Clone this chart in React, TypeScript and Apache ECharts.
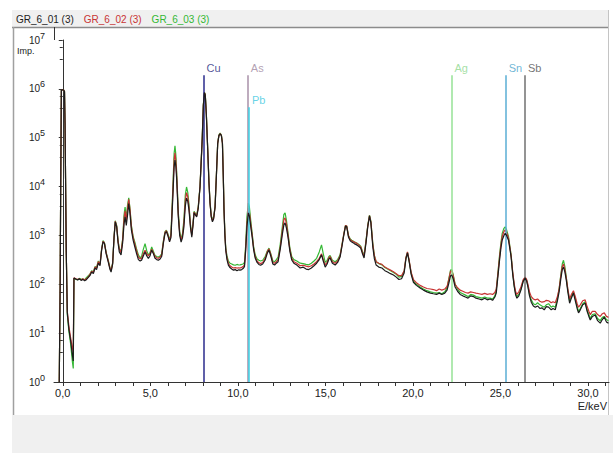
import React, { useEffect, useRef } from "react";
import * as echarts from "echarts";

const seriesNames = ["GR_6_01 (3)", "GR_6_02 (3)", "GR_6_03 (3)"];

const energy = [
  -0.2, -0.15, -0.12, -0.08, 0.05, 0.1, 0.13, 0.16, 0.2, 0.26,
  0.35, 0.45, 0.55, 0.6, 0.64, 0.75, 0.85, 0.95, 1.05, 1.15,
  1.25, 1.35, 1.46, 1.55, 1.65, 1.75, 1.84, 1.93, 2.03, 2.13,
  2.22, 2.3, 2.38, 2.48, 2.6, 2.7, 2.76, 2.85, 2.93, 3.0,
  3.08, 3.16, 3.23, 3.33, 3.42, 3.5, 3.56, 3.63, 3.7, 3.77,
  3.84, 3.92, 4.02, 4.13, 4.22, 4.32, 4.42, 4.5, 4.6, 4.7,
  4.8, 4.89, 4.98, 5.08, 5.18, 5.27, 5.37, 5.46, 5.56, 5.65,
  5.75, 5.84, 5.92, 6.0, 6.1, 6.18, 6.28, 6.36, 6.41, 6.46,
  6.51, 6.6, 6.68, 6.76, 6.84, 6.92, 7.0, 7.07, 7.14, 7.21,
  7.3, 7.37, 7.44, 7.5, 7.58, 7.65, 7.74, 7.84, 7.92, 7.97,
  8.03, 8.09, 8.14, 8.2, 8.28, 8.35, 8.41, 8.48, 8.55, 8.62,
  8.7, 8.78, 8.85, 8.92, 8.99, 9.06, 9.12, 9.17, 9.21, 9.26,
  9.31, 9.38, 9.46, 9.55, 9.65, 9.75, 9.85, 9.95, 10.05, 10.13,
  10.22, 10.3, 10.38, 10.45, 10.52, 10.6, 10.66, 10.74, 10.82, 10.9,
  10.99, 11.1, 11.2, 11.3, 11.42, 11.56, 11.68, 11.78, 11.88, 12.0,
  12.1, 12.2, 12.3, 12.42, 12.55, 12.63, 12.7, 12.78, 12.87, 12.97,
  13.08, 13.2, 13.37, 13.56, 13.72, 13.9, 14.05, 14.2, 14.35, 14.5,
  14.65, 14.78, 14.88, 14.99, 15.1, 15.2, 15.27, 15.4, 15.56, 15.7,
  15.84, 15.95, 16.05, 16.15, 16.22, 16.32, 16.42, 16.51, 16.65, 16.79,
  16.9, 17.02, 17.12, 17.21, 17.32, 17.42, 17.52, 17.6, 17.71, 17.8,
  17.9, 18.05, 18.23, 18.4, 18.55, 18.72, 18.89, 19.05, 19.2, 19.35,
  19.5, 19.6, 19.69, 19.78, 19.9, 20.03, 20.2, 20.41, 20.6, 20.8,
  21.0, 21.17, 21.35, 21.5, 21.65, 21.82, 21.95, 22.05, 22.15, 22.22,
  22.3, 22.41, 22.55, 22.7, 22.85, 23.0, 23.15, 23.3, 23.46, 23.6,
  23.78, 23.94, 24.1, 24.25, 24.41, 24.55, 24.68, 24.76, 24.86, 24.95,
  25.03, 25.1, 25.2, 25.27, 25.35, 25.46, 25.55, 25.61, 25.7, 25.79,
  25.87, 25.94, 26.05, 26.17, 26.3, 26.41, 26.5, 26.57, 26.66, 26.76,
  26.88, 26.99, 27.12, 27.25, 27.37, 27.5, 27.62, 27.75, 27.9, 28.0,
  28.13, 28.25, 28.35, 28.45, 28.53, 28.6, 28.68, 28.76, 28.85, 28.95,
  29.05, 29.17, 29.28, 29.38, 29.46, 29.56, 29.7, 29.84, 29.95, 30.05,
  30.13, 30.25, 30.41, 30.55, 30.7, 30.82, 30.93, 31.05, 31.17,
];

const counts01 = [
  1, 90, 6600, 950000, 950000, 880000, 200000, 15000, 460, 26,
  12, 7, 3.5, 2.7, 135, 128, 122, 130, 120, 126,
  118, 124, 138, 150, 178, 165, 215, 200, 270, 240,
  500, 740, 690, 420, 285, 200, 178, 260, 900, 1900,
  1500, 700, 460, 400, 700, 1700, 2400, 1600, 2600, 4500,
  2800, 1300, 800, 560, 420, 320, 300, 310, 380, 460,
  380, 340, 380, 500, 420, 340, 320, 310, 330, 370,
  700, 1100, 1200, 1000, 740, 900, 5300, 25000, 35000, 26000,
  13500, 2400, 1000, 730, 900, 1500, 4000, 5800, 5000, 3300,
  1400, 920, 1600, 2900, 2600, 2400, 3600, 9800, 40000, 100000,
  450000, 830000, 750000, 300000, 56000, 12000, 4600, 2400, 1900, 2200,
  3800, 18000, 76000, 110000, 120000, 110000, 76000, 15000, 3300, 1000,
  500, 320, 247, 220, 205, 195, 200, 190, 198, 195,
  200, 210, 230, 500, 1500, 2900, 2500, 1500, 920, 520,
  345, 280, 255, 245, 260, 314, 430, 500, 380, 260,
  247, 270, 290, 520, 1100, 1650, 1800, 1400, 900, 480,
  314, 270, 247, 215, 225, 205, 200, 215, 240, 270,
  320, 400, 300, 225, 260, 330, 345, 270, 247, 280,
  360, 600, 1000, 1550, 1500, 920, 780, 730, 680, 640,
  600, 550, 420, 345, 700, 1500, 2500, 1800, 580, 330,
  247, 225, 215, 190, 178, 165, 155, 140, 125, 130,
  170, 330, 440, 300, 160, 110, 95, 84, 76, 70,
  66, 64, 62, 66, 62, 66, 76, 105, 150, 155,
  130, 88, 72, 62, 58, 55, 52, 58, 56, 52,
  50, 48, 52, 48, 50, 47, 55, 66, 150, 314,
  560, 805, 1000, 1100, 1000, 800, 500, 360, 160, 88,
  60, 52, 58, 76, 115, 134, 115, 88, 58, 43,
  36, 34, 36, 32, 33, 30, 35, 34, 30, 32,
  30, 45, 70, 130, 200, 225, 180, 122, 70, 41,
  52, 66, 45, 32, 26, 30, 38, 41, 28, 22,
  18.6, 22, 23.5, 18, 16, 19, 21.4, 17, 16,
];

const counts02 = [
  1, 90, 6600, 950000, 950000, 880000, 200000, 15000, 460, 28,
  14, 8, 5, 4.2, 135, 130, 126, 128, 124, 130,
  122, 130, 142, 160, 185, 175, 225, 215, 290, 255,
  520, 760, 700, 440, 300, 210, 190, 270, 920, 1950,
  1550, 760, 520, 450, 800, 2200, 3200, 2000, 3600, 5500,
  3400, 1500, 900, 640, 480, 360, 330, 340, 420, 500,
  420, 380, 420, 520, 440, 370, 350, 340, 360, 400,
  750, 1150, 1250, 1050, 780, 1000, 6500, 35000, 49000, 34000,
  16000, 2700, 1100, 800, 1000, 1800, 5200, 7500, 6200, 3800,
  1500, 1000, 1700, 3000, 2700, 2500, 3800, 10000, 42000, 105000,
  460000, 840000, 760000, 310000, 58000, 12500, 4800, 2500, 2000, 2300,
  3900, 18500, 77000, 112000, 122000, 112000, 78000, 16000, 3500, 1080,
  520, 350, 270, 240, 225, 215, 220, 215, 218, 215,
  222, 230, 250, 560, 1800, 3600, 3000, 1700, 1000, 560,
  370, 300, 275, 265, 280, 340, 460, 530, 410, 280,
  270, 290, 320, 560, 1300, 2100, 2300, 1700, 1000, 520,
  340, 290, 270, 240, 245, 235, 228, 240, 260, 290,
  340, 420, 320, 250, 280, 350, 370, 290, 270, 300,
  380, 640, 1050, 1600, 1550, 980, 820, 780, 730, 690,
  640, 580, 450, 370, 750, 1550, 2550, 1900, 650, 380,
  290, 270, 255, 225, 210, 195, 180, 165, 150, 150,
  190, 350, 460, 320, 175, 125, 108, 95, 88, 82,
  80, 78, 74, 80, 76, 80, 90, 125, 185, 190,
  150, 100, 85, 76, 72, 68, 66, 70, 68, 66,
  64, 62, 65, 62, 64, 62, 68, 80, 170, 360,
  650, 950, 1200, 1300, 1150, 880, 540, 380, 180, 100,
  70, 62, 70, 88, 125, 140, 125, 100, 70, 56,
  50, 48, 50, 45, 43, 44, 47, 46, 42, 44,
  42, 56, 80, 150, 230, 260, 200, 135, 80, 50,
  62, 74, 55, 40, 34, 38, 46, 48, 35, 28,
  24, 28, 28, 24, 22, 25, 26, 22, 21,
];

const counts03 = [
  1, 90, 6600, 950000, 950000, 880000, 200000, 15000, 460, 24,
  11, 6, 2.6, 1.9, 132, 126, 124, 132, 126, 128,
  124, 136, 150, 162, 190, 180, 230, 220, 300, 260,
  530, 780, 710, 450, 310, 215, 195, 275, 940, 2000,
  1600, 780, 540, 470, 850, 2600, 3800, 2200, 4200, 5900,
  3600, 1600, 950, 700, 520, 400, 350, 370, 520, 680,
  480, 400, 440, 580, 470, 390, 370, 360, 380, 420,
  780, 1200, 1280, 1100, 800, 1100, 8000, 48000, 68000, 44000,
  19000, 3000, 1200, 850, 1100, 2100, 6800, 9800, 7600, 4300,
  1600, 1050, 1800, 3100, 2800, 2600, 3900, 10200, 43000, 110000,
  470000, 850000, 770000, 320000, 60000, 13000, 5000, 2600, 2100, 2400,
  4000, 19000, 78000, 114000, 124000, 113000, 80000, 17000, 3700, 1150,
  560, 380, 300, 270, 260, 250, 245, 255, 248, 250,
  255, 260, 280, 650, 2400, 4600, 3800, 2000, 1100, 600,
  400, 330, 310, 300, 310, 370, 480, 550, 430, 300,
  290, 320, 360, 650, 1600, 2700, 2900, 2000, 1100, 560,
  370, 320, 300, 270, 265, 255, 250, 270, 300, 340,
  460, 640, 420, 280, 310, 370, 390, 310, 290, 320,
  400, 660, 1050, 1600, 1550, 1000, 850, 800, 740, 700,
  660, 600, 470, 390, 780, 1600, 2600, 1950, 680, 390,
  290, 265, 250, 220, 205, 190, 175, 160, 140, 145,
  185, 345, 450, 310, 170, 118, 100, 88, 80, 74,
  70, 68, 66, 68, 64, 70, 85, 130, 195, 200,
  160, 100, 80, 68, 64, 60, 56, 62, 60, 56,
  54, 52, 55, 52, 52, 50, 58, 75, 180, 400,
  720, 1100, 1400, 1500, 1300, 950, 560, 400, 170, 92,
  64, 56, 62, 80, 118, 138, 120, 92, 62, 48,
  40, 38, 42, 38, 36, 34, 38, 40, 34, 36,
  34, 50, 80, 160, 260, 310, 230, 140, 75, 45,
  56, 70, 50, 35, 28, 32, 40, 44, 30, 24,
  20, 24, 25, 20, 18, 21, 22, 19, 18,
];

const elementNames = ["Cu", "As", "Pb", "Ag", "Sn", "Sb"];
const elementEnergy = [8.04, 10.57, 10.64, 22.2, 25.3, 26.4];
const elementTop = [1.9e6, 1.9e6, 4.2e5, 1.9e6, 1.9e6, 1.9e6];

const xLabelValues = [0, 5, 10, 15, 20, 25, 30];
const xTickValues = [
  0, 1, 2, 3, 4, 5, 6, 7, 8, 9, 10, 11, 12, 13, 14, 15,
  16, 17, 18, 19, 20, 21, 22, 23, 24, 25, 26, 27, 28, 29, 30, 31,
];

const seriesColors = ["#1c1c1c", "#c83434", "#34b834"];
const elementColors = ["#2b2b8c", "#a890a8", "#3ad0e4", "#96e296", "#5aaed4", "#707070"];
const elementLabelColors = ["#28287e", "#a088a0", "#40c8e0", "#8ed88e", "#4aa4cc", "#505050"];

const FONT = "'Liberation Sans', Arial, sans-serif";
const AXIS_COLOR = "#333333";

export default function App() {
  const ref = useRef<HTMLDivElement | null>(null);

  useEffect(() => {
    if (!ref.current) return;
    const chart = echarts.init(ref.current, undefined, { renderer: "svg" });
    const countSets = [counts01, counts02, counts03];

    const spectra = seriesNames.map((name, i) => ({
      name,
      type: "line",
      data: energy.map((e, k) => [e, countSets[i][k]]),
      showSymbol: false,
      symbol: "none",
      silent: true,
      lineStyle: { color: seriesColors[i], width: 1.2 },
      itemStyle: { color: seriesColors[i] },
      z: 5 - i,
    }));

    const markers = {
      name: "elements",
      type: "scatter",
      silent: true,
      symbolSize: 0,
      z: 1,
      data: elementNames.map((n, i) => ({
        value: [elementEnergy[i], elementTop[i]],
        label: { color: elementLabelColors[i] },
      })),
      label: {
        show: true,
        formatter: (p: any) => elementNames[p.dataIndex],
        position: [3, -13],
        align: "left",
        verticalAlign: "top",
        fontSize: 11,
        fontFamily: FONT,
      },
      markLine: {
        silent: true,
        symbol: ["none", "none"],
        label: { show: false },
        emphasis: { disabled: true },
        data: elementNames.map((n, i) => [
          {
            coord: [elementEnergy[i], elementTop[i]],
            lineStyle: { color: elementColors[i], width: 1.5, type: "solid" },
          },
          { coord: [elementEnergy[i], 1] },
        ]),
      },
    };

    const option: any = {
      animation: false,
      backgroundColor: "#ffffff",
      textStyle: { fontFamily: FONT },
      legend: {
        data: seriesNames.map((n, i) => ({ name: n, textStyle: { color: seriesColors[i] } })),
        left: 11,
        top: 12,
        padding: 0,
        icon: "rect",
        itemWidth: 0,
        itemHeight: 14,
        itemGap: 5,
        selectedMode: false,
        itemStyle: { opacity: 0 },
        textStyle: { fontSize: 10, fontFamily: FONT },
      },
      grid: { left: 54, right: 4, top: 40, bottom: 71 },
      xAxis: {
        type: "value",
        min: -0.5,
        max: 31.2,
        axisLine: { show: true, lineStyle: { color: AXIS_COLOR, width: 1 } },
        axisTick: {
          show: true,
          length: 4,
          customValues: xTickValues,
          lineStyle: { color: AXIS_COLOR },
        },
        axisLabel: {
          customValues: xLabelValues,
          formatter: (v: number) => v.toFixed(1).replace(".", ","),
          fontSize: 11,
          color: "#222222",
          margin: 5,
          fontFamily: FONT,
        },
        splitLine: { show: false },
      },
      yAxis: {
        type: "log",
        logBase: 10,
        min: 1,
        max: 1e7,
        splitNumber: 7,
        axisLine: { show: true, lineStyle: { color: AXIS_COLOR, width: 1 } },
        axisTick: { show: true, length: 4, lineStyle: { color: AXIS_COLOR } },
        minorTick: { show: true, splitNumber: 3, length: 3, lineStyle: { color: AXIS_COLOR } },
        splitLine: { show: false },
        minorSplitLine: { show: false },
        axisLabel: {
          margin: 9,
          formatter: (v: number) => `{b|10}{e|${Math.round(Math.log10(v))}}`,
          rich: {
            b: { fontSize: 10, color: "#222222", fontFamily: FONT },
            e: { fontSize: 9, color: "#222222", fontFamily: FONT, padding: [0, 0, 9, 0] },
          },
        },
      },
      series: [markers, ...spectra],
      graphic: {
        elements: [
          { type: "rect", z: -10, silent: true, shape: { x: 12, y: 10, width: 596, height: 17 }, style: { fill: "#f0f0f0" } },
          { type: "rect", z: -10, silent: true, shape: { x: 12, y: 415, width: 601, height: 38 }, style: { fill: "#f0f0f0" } },
          { type: "line", silent: true, shape: { x1: 12, y1: 27.5, x2: 608, y2: 27.5 }, style: { stroke: "#8c8c8c", lineWidth: 1.5 } },
          { type: "line", silent: true, shape: { x1: 13.5, y1: 27, x2: 13.5, y2: 415 }, style: { stroke: "#a0a0a0", lineWidth: 1.5 } },
          { type: "line", silent: true, shape: { x1: 608.5, y1: 10, x2: 608.5, y2: 415 }, style: { stroke: "#c4c4c4", lineWidth: 1 } },
          { type: "line", silent: true, shape: { x1: 54.5, y1: 27, x2: 54.5, y2: 40 }, style: { stroke: AXIS_COLOR, lineWidth: 1 } },
          { type: "text", silent: true, x: 17, y: 51, style: { text: "Imp.", fontSize: 9, fontFamily: FONT, fill: "#222222", verticalAlign: "middle" } },
          { type: "text", silent: true, x: 607, y: 406, style: { text: "E/keV", fontSize: 11, fontFamily: FONT, fill: "#222222", align: "right", verticalAlign: "middle" } },
        ],
      },
    };

    chart.setOption(option);
    return () => chart.dispose();
  }, []);

  return (
    <div
      ref={ref}
      style={{ position: "fixed", left: 0, top: 0, width: 613, height: 453 }}
    />
  );
}
